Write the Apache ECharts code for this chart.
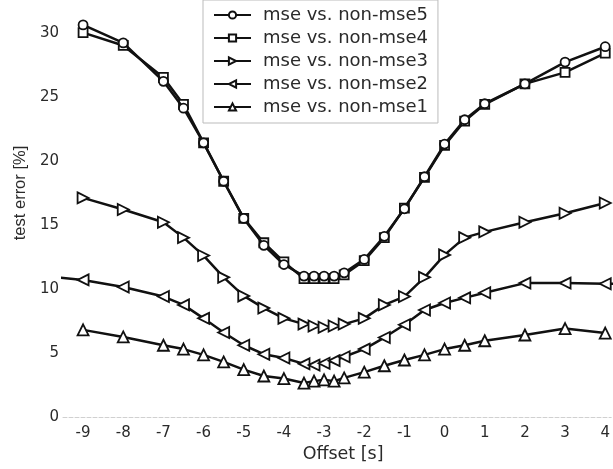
<!DOCTYPE html>
<html><head><meta charset="utf-8">
<script src="https://cdn.jsdelivr.net/npm/echarts@6/dist/echarts.min.js"></script>
<style>html,body{margin:0;padding:0;background:#fff}#c{width:613px;height:469px}</style>
</head><body><div id="c"></div>
<script>
// Offsets [s]
const offsets = [-9,-8,-7,-6.5,-6,-5.5,-5,-4.5,-4,-3.5,-3.25,-3,-2.75,-2.5,-2,-1.5,-1,-0.5,0,0.5,1,2,3,4];
// test error [%]
const mse5 = [30.6,29.2,26.2,24.1,21.4,18.4,15.5,13.4,11.9,11.0,11.0,11.0,11.0,11.25,12.3,14.1,16.25,18.75,21.3,23.2,24.45,26.0,27.7,28.9];
const mse4 = [30.0,29.0,26.5,24.4,21.4,18.4,15.5,13.6,12.1,10.8,10.8,10.8,10.8,11.1,12.2,14.0,16.3,18.7,21.2,23.1,24.4,26.0,26.9,28.4];
const mse3 = [17.1,16.2,15.2,14.0,12.6,10.9,9.45,8.5,7.7,7.25,7.1,7.0,7.1,7.25,7.7,8.75,9.4,10.9,12.65,14.0,14.45,15.2,15.9,16.7];
const mse2 = [10.7,10.15,9.4,8.75,7.7,6.6,5.6,4.9,4.6,4.15,4.05,4.2,4.4,4.7,5.3,6.2,7.2,8.35,8.9,9.3,9.7,10.45,10.45,10.4];
const mse1 = [6.8,6.25,5.6,5.3,4.85,4.3,3.7,3.2,3.0,2.65,2.8,2.9,2.8,3.05,3.5,4.0,4.45,4.85,5.3,5.6,5.95,6.4,6.9,6.55];
// mse2 continues beyond the visible range on both sides
const mse2OffsetsOutside = [-10, 4.5];
const mse2Outside = [11.0, 10.4];

const xTicks = [-9,-8,-7,-6,-5,-4,-3,-2,-1,0,1,2,3,4];
const yTicks = [0,5,10,15,20,25,30];
const names = ['mse vs. non-mse5','mse vs. non-mse4','mse vs. non-mse3','mse vs. non-mse2','mse vs. non-mse1'];

const pair = (xs, ys) => xs.map((x, i) => [x, ys[i]]);
const mse2Data = [[mse2OffsetsOutside[0], mse2Outside[0]]].concat(pair(offsets, mse2), [[mse2OffsetsOutside[1], mse2Outside[1]]]);

const INK = '#111';
const TXT = '#2a2a2a';
function mk(name, data, symbol, size, z) {
  return {
    name, type: 'line', data, symbol, symbolSize: size, showAllSymbol: true,
    clip: true, z,
    lineStyle: { color: INK, width: 2.5 },
    itemStyle: { color: '#fff', borderColor: INK, borderWidth: 1.8 },
    emphasis: { disabled: true }
  };
}

const chart = echarts.init(document.getElementById('c'));
chart.setOption({
  animation: false,
  backgroundColor: '#fff',
  grid: { left: 63, width: 550, top: 7, height: 410 },
  xAxis: {
    type: 'value', min: -9.5, max: 4.149,
    axisLine: { show: true, lineStyle: { color: '#d0d0d0', width: 1, type: 'dashed' } },
    axisTick: { show: false },
    splitLine: { show: false },
    axisLabel: { customValues: xTicks, margin: 9, color: TXT, fontFamily: 'DejaVu Sans', fontSize: 15 },
    name: 'Offset [s]', nameLocation: 'middle', nameGap: 26,
    nameTextStyle: { color: TXT, fontFamily: 'DejaVu Sans', fontSize: 17.5, padding: [0, 0, 0, 12] }
  },
  yAxis: {
    type: 'value', min: 0, max: 32,
    axisLine: { show: false }, axisTick: { show: false }, splitLine: { show: false },
    axisLabel: { customValues: yTicks, margin: 4, color: TXT, fontFamily: 'DejaVu Sans', fontSize: 15 },
    name: 'test error [%]', nameLocation: 'middle', nameGap: 33,
    nameTextStyle: { color: TXT, fontFamily: 'Liberation Sans', fontSize: 16.5, padding: [0, 0, 0, 38] }
  },
  legend: {
    orient: 'vertical', left: 203, top: 0,
    padding: [5, 10, 6, 10],
    backgroundColor: '#fff', borderColor: '#bbb', borderWidth: 1,
    itemWidth: 37, itemHeight: 9, itemGap: 3,
    textStyle: { fontFamily: 'DejaVu Sans', fontSize: 18, color: TXT, lineHeight: 20, padding: [0, 0, 0, 7] },
    data: names
  },
  series: [
    mk(names[0], pair(offsets, mse5), 'circle', 9, 5),
    mk(names[1], pair(offsets, mse4), 'rect', 9, 4),
    mk(names[2], pair(offsets, mse3), 'path://M0,0L10,5L0,10Z', 11, 3),
    mk(names[3], mse2Data, 'path://M10,0L0,5L10,10Z', 11, 2),
    mk(names[4], pair(offsets, mse1), 'triangle', 11, 1)
  ]
});
</script></body></html>
